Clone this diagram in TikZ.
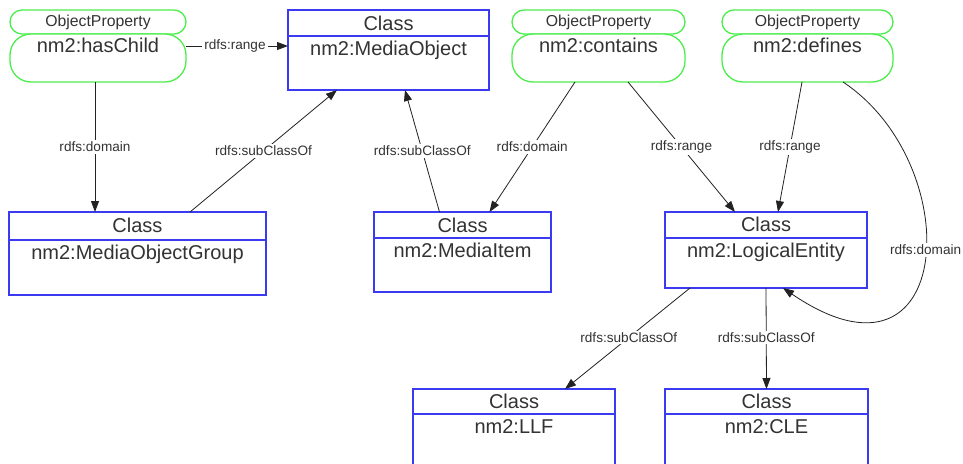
\documentclass[tikz,border=0pt]{standalone}
\usepackage{fontspec}
\setmainfont{Liberation Sans}
\usetikzlibrary{arrows.meta}
\definecolor{boxblue}{HTML}{3A3AF0}
\definecolor{pillgreen}{HTML}{4CEE4C}
\definecolor{ink}{HTML}{333333}
\definecolor{wire}{HTML}{222222}

\begin{document}
\begin{tikzpicture}[x=1pt,y=-1pt,
  every node/.style={text=ink, inner sep=0pt, outer sep=0pt},
  classbox/.style={draw=boxblue, line width=1.3pt, fill=white, rectangle},
  classhead/.style={draw=boxblue, line width=1.3pt, rectangle, anchor=north,
    minimum height=26pt, font=\fontsize{20}{22}\selectfont},
  pilltop/.style={draw=pillgreen, line width=1.3pt, fill=white, rectangle,
    rounded corners=12pt, minimum height=24pt, font=\fontsize{15.8}{17}\selectfont},
  pillbody/.style={draw=pillgreen, line width=1.3pt, fill=white, rectangle,
    rounded corners=21pt, minimum height=48pt},
  bigtext/.style={font=\fontsize{20}{22}\selectfont, anchor=base},
  link/.style={draw=wire, line width=0.8pt, -{Triangle[length=11pt,width=8pt]}},
  lbl/.style={fill=white, font=\fontsize{13.6}{15}\selectfont, inner sep=2pt, text=ink}
]
\clip (0,0) rectangle (963,463);
\fill[white] (0,0) rectangle (963,463);

% ---------- object properties (green pills) ----------
\node[pilltop,  minimum width=176pt] (hct) at (98,22) {ObjectProperty};
\node[pillbody, minimum width=176pt] (hcb) at (98,58) {};
\node[bigtext] at (98,52) {nm2:hasChild};

\node[pilltop,  minimum width=173pt] (ctt) at (598.5,22) {ObjectProperty};
\node[pillbody, minimum width=173pt] (ctb) at (598.5,58) {};
\node[bigtext] at (598.5,52) {nm2:contains};

\node[pilltop,  minimum width=171pt] (dft) at (807.5,22) {ObjectProperty};
\node[pillbody, minimum width=171pt] (dfb) at (807.5,58) {};
\node[bigtext] at (807.5,52) {nm2:defines};

% ---------- classes (blue boxes) ----------
% MediaObject
\node[classbox, minimum width=201pt, minimum height=80pt] (mo) at (388.5,50) {};
\node[classhead, minimum width=201pt] (moh) at (mo.north) {};
\node[bigtext] at (388.5,30) {Class};
\node[bigtext] at (388.5,55) {nm2:MediaObject};

% MediaObjectGroup
\node[classbox, minimum width=257pt, minimum height=83pt] (mog) at (137.5,253.5) {};
\node[classhead, minimum width=257pt, minimum height=28pt] (mogh) at (mog.north) {};
\node[bigtext] at (137.5,232) {Class};
\node[bigtext] at (137.5,259) {nm2:MediaObjectGroup};

% MediaItem
\node[classbox, minimum width=177pt, minimum height=80pt] (mi) at (462.5,252) {};
\node[classhead, minimum width=177pt] (mih) at (mi.north) {};
\node[bigtext] at (462.5,232) {Class};
\node[bigtext] at (462.5,257) {nm2:MediaItem};

% LogicalEntity
\node[classbox, minimum width=202pt, minimum height=76pt] (le) at (766,250) {};
\node[classhead, minimum width=202pt] (leh) at (le.north) {};
\node[bigtext] at (766,231) {Class};
\node[bigtext] at (766,257) {nm2:LogicalEntity};

% LLF
\node[classbox, minimum width=202pt, minimum height=80pt] (llf) at (514,429) {};
\node[classhead, minimum width=202pt, minimum height=25pt] (llfh) at (llf.north) {};
\node[bigtext] at (514,408) {Class};
\node[bigtext] at (514,433) {nm2:LLF};

% CLE
\node[classbox, minimum width=203pt, minimum height=80pt] (cle) at (766.5,429) {};
\node[classhead, minimum width=203pt, minimum height=25pt] (cleh) at (cle.north) {};
\node[bigtext] at (766.5,408) {Class};
\node[bigtext] at (766.5,433) {nm2:CLE};

% ---------- connectors ----------
\coordinate (r1) at ([yshift=12pt]hcb.east);
\draw[link] (r1) -- (r1 -| mo.west) node[lbl, pos=0.48] {rdfs:range};

\draw[link] ([xshift=-3pt]hcb.south) -- ([xshift=-3pt]hcb.south |- mog.north)
  node[lbl, midway] {rdfs:domain};

\draw[link] ([xshift=52.5pt]mog.north) -- ([xshift=-51.5pt]mo.south)
  node[lbl, pos=0.5] {rdfs:subClassOf};

\draw[link] ([xshift=-23pt]mi.north) -- ([xshift=16.5pt]mo.south)
  node[lbl, pos=0.5] {rdfs:subClassOf};

\draw[link] ([xshift=-23.5pt]ctb.south) -- ([xshift=27pt]mi.north)
  node[lbl, pos=0.5] {rdfs:domain};

\draw[link] ([xshift=29.5pt]ctb.south) -- ([xshift=-31pt]le.north)
  node[lbl, pos=0.5] {rdfs:range};

\draw[link] ([xshift=-5.5pt]dfb.south) -- ([xshift=12pt]le.north)
  node[lbl, pos=0.5] {rdfs:range};

\draw[link] ([xshift=35.5pt]dfb.south) .. controls (968,165) and (955,405) ..
  ([xshift=17pt]le.south) node[lbl, pos=0.47] {rdfs:domain};

\draw[link] ([xshift=-76pt]le.south) -- ([xshift=51pt]llf.north)
  node[lbl, pos=0.49] {rdfs:subClassOf};

\draw[link] (le.south) -- (cle.north)
  node[lbl, pos=0.49] {rdfs:subClassOf};
\end{tikzpicture}
\end{document}
